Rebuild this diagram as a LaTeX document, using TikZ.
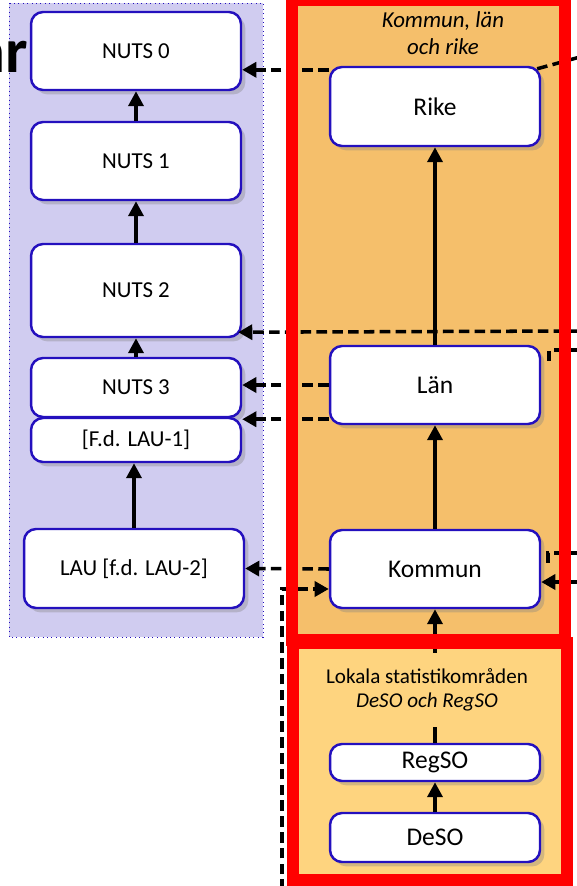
\documentclass[tikz,border=0pt]{standalone}
\usepackage{fontspec}
\setmainfont{Carlito}
\usetikzlibrary{shadows,arrows.meta,calc}

\definecolor{boxBlue}{RGB}{36,16,190}
\definecolor{panelLav}{RGB}{208,204,240}
\definecolor{panelOrange}{RGB}{245,191,107}
\definecolor{panelYellow}{RGB}{254,212,127}
\definecolor{frameRed}{RGB}{255,0,0}

\begin{document}
\begin{tikzpicture}
  [x=0.02cm,y=-0.02cm,
   levelN/.style={rectangle,rounded corners=0.24cm,draw=boxBlue,line width=1.4pt,fill=white,
     drop shadow={shadow xshift=2.5pt,shadow yshift=-2.5pt,opacity=0.35},
     minimum width=4.2cm,inner sep=0pt,font=\fontsize{13}{15}\selectfont},
   bigN/.style={levelN,font=\fontsize{14.5}{17}\selectfont},
   upArrow/.style={line width=2.1pt,-{Triangle[length=8.5pt,width=8.5pt]}},
   linkLine/.style={line width=2pt,dash pattern=on 6pt off 3pt},
   linkArrow/.style={linkLine,-{Triangle[length=8pt,width=8.5pt]}},
   frameR/.style={draw=frameRed,line width=0.24cm}]

  \useasboundingbox (0,0) rectangle (576,886);

  \fill[panelLav] (9,3) rectangle (263,637);
  \draw[boxBlue,dotted,line width=0.5pt] (9,3) rectangle (263,637);
  \fill[panelOrange] (292,0) rectangle (565,640);
  \fill[panelYellow] (292,643) rectangle (567,880);

  \node[anchor=base east,inner sep=0pt,font=\fontsize{36}{36}\selectfont\bfseries] (title) at (28,72) {nr};

  \node[levelN,minimum height=1.56cm] (nuts0)  at (136,51)    {NUTS 0};
  \node[levelN,minimum height=1.56cm] (nuts1)  at (136,161)   {NUTS 1};
  \node[levelN,minimum height=1.86cm] (nuts2)  at (136,290.5) {NUTS 2};
  \node[levelN,minimum height=1.18cm] (nuts3)  at (136,387.5) {NUTS 3};
  \node[levelN,minimum height=0.88cm] (lauone) at (136,440)   {[F.d. LAU-1]};
  \node[levelN,minimum width=4.4cm,minimum height=1.58cm] (lau) at (134,568.5) {LAU [f.d. LAU-2]};

  \node[bigN,minimum height=1.58cm] (rike)   at (435,106.5) {Rike};
  \node[bigN,minimum height=1.56cm] (lan)    at (435,385)   {Län};
  \node[bigN,minimum height=1.56cm] (kommun) at (435,569)   {Kommun};
  \node[bigN,minimum height=0.74cm] (regso)  at (435,762.5) {RegSO};
  \node[bigN,minimum height=0.98cm] (deso)   at (435,837.5) {DeSO};

  \node[font=\fontsize{13}{15.5}\selectfont\itshape,align=center] (rikeTitle) at (443,33) {Kommun, län\\och rike};

  \draw[upArrow] (nuts1) -- (nuts0);
  \draw[upArrow] (nuts2) -- (nuts1);
  \draw[upArrow] (nuts3) -- (nuts2);
  \draw[upArrow] (lau) -- (lau |- lauone.south);
  \draw[upArrow] (lan) -- (rike);
  \draw[upArrow] (kommun) -- (lan);
  \draw[upArrow] (regso) -- (kommun);
  \draw[upArrow] (deso) -- (regso);

  \coordinate (rikeOut)    at ([yshift=-0.08cm]rike.north west);
  \coordinate (rikeOff)    at (580,57);
  \coordinate (edgeTwo)    at (580,331);
  \coordinate (nutsTwoIn)  at ([shift={(-4,-6)}]nuts2.south east);
  \coordinate (lanLow)     at ([yshift=0.12cm]lan.south west);
  \coordinate (lanOff)     at (580,350);
  \coordinate (bottomOff)  at (282,890);
  \coordinate (kommunOff)  at (580,553);
  \coordinate (kommunIn)   at (580,582);

  \draw[linkArrow] (rikeOut) -- (rikeOut -| nuts0.east);
  \draw[linkLine] ([shift={(-4,3)}]rike.north east) -- (rikeOff);
  \draw[linkArrow] (edgeTwo) -- (nutsTwoIn);
  \draw[linkArrow] (lan.west) -- (lan.west -| nuts3.east);
  \draw[linkArrow] (lanLow) -- (lanLow -| nuts3.east);
  \draw[linkLine] (lanOff) -| ([shift={(8,19)}]lan.north east);
  \draw[linkArrow] (kommun.west) -- (lau.east);
  \draw[linkArrow] (bottomOff) |- ([yshift=-0.4cm]kommun.west);
  \draw[linkLine] (kommunOff) -| ([shift={(7,-2)}]kommun.east);
  \draw[linkArrow] (kommunIn) -- (kommunIn -| kommun.east);

  \draw[frameR] (292,0) rectangle (565,640);
  \draw[frameR] (292.5,643) rectangle (567,880);

  \node[fill=panelYellow,align=center,minimum height=1.48cm,font=\fontsize{12}{13.6}\selectfont] (localTitle) at (427,690) {Lokala statistikområden\\\textit{DeSO och RegSO}};

\end{tikzpicture}
\end{document}
